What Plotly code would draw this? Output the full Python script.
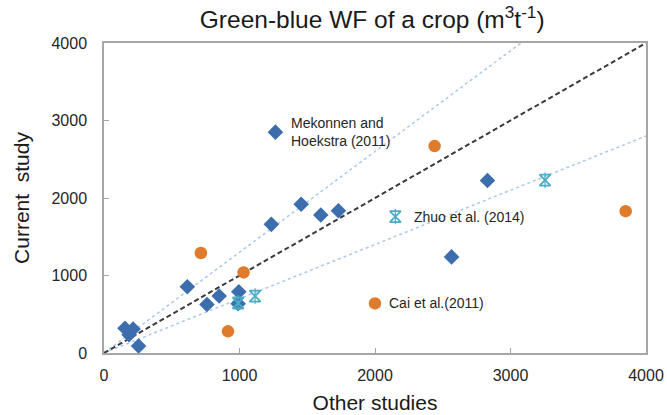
import plotly.graph_objects as go

# Green-blue water footprint: current study vs. other studies (m3/t)
diamond_x = [1265, 1235, 1455, 1600, 1730, 2830, 2565, 615, 760, 850, 995, 990, 155, 215, 185, 255]
diamond_y = [2850, 1660, 1920, 1780, 1835, 2225, 1240, 855, 625, 735, 790, 635, 320, 310, 235, 90]

circle_x = [715, 1030, 915, 2440, 2000, 3850]
circle_y = [1290, 1040, 280, 2670, 640, 1830]

star_x = [990, 1115, 2150, 3255]
star_y = [645, 735, 1760, 2230]

# reference lines: 1:1, +30 % and -30 %
one_to_one_x = [0, 4000]
one_to_one_y = [0, 4000]
upper_x = [0, 3077]
upper_y = [0, 4000]
lower_x = [0, 4000]
lower_y = [0, 2800]

x_ticks = [0, 1000, 2000, 3000, 4000]
y_ticks = [0, 1000, 2000, 3000, 4000]

FONT = "Liberation Sans, Arial, sans-serif"
BLUE = "#3C6EAD"
ORANGE = "#E17B2C"
TEAL = "#4BACC6"
DOT = "#A9C8EA"

fig = go.Figure()

fig.add_trace(go.Scatter(x=upper_x, y=upper_y, mode="lines",
                         line=dict(color=DOT, width=1.5, dash="dot"), hoverinfo="skip"))
fig.add_trace(go.Scatter(x=lower_x, y=lower_y, mode="lines",
                         line=dict(color=DOT, width=1.5, dash="dot"), hoverinfo="skip"))
fig.add_trace(go.Scatter(x=one_to_one_x, y=one_to_one_y, mode="lines",
                         line=dict(color="#3a3a3a", width=2, dash="5px,3px"), hoverinfo="skip"))

fig.add_trace(go.Scatter(x=diamond_x, y=diamond_y, mode="markers",
                         marker=dict(symbol="diamond", size=12, color=BLUE)))
fig.add_trace(go.Scatter(x=circle_x, y=circle_y, mode="markers",
                         marker=dict(symbol="circle", size=12.5, color=ORANGE)))
fig.add_trace(go.Scatter(x=star_x, y=star_y, mode="markers",
                         marker=dict(symbol="hourglass-open", size=11, color=TEAL,
                                     line=dict(color=TEAL, width=1.8))))
fig.add_trace(go.Scatter(x=star_x, y=star_y, mode="markers",
                         marker=dict(symbol="line-ns-open", size=11, color=TEAL,
                                     line=dict(color=TEAL, width=1.2))))

ann_font = dict(family=FONT, size=14, color="#262626")
fig.add_annotation(x=1365, y=2850, text="Mekonnen and<br>Hoekstra (2011)", showarrow=False,
                   xanchor="left", yanchor="middle", align="left", font=ann_font)
fig.add_annotation(x=2270, y=1760, text="Zhuo et al. (2014)", showarrow=False,
                   xanchor="left", yanchor="middle", font=ann_font)
fig.add_annotation(x=2085, y=640, text="Cai et al.(2011)", showarrow=False,
                   xanchor="left", yanchor="middle", font=ann_font)

axis_common = dict(
    showgrid=False, zeroline=False, showline=True, linecolor="#A6A6A6", linewidth=1.5,
    mirror=True, ticks="inside", ticklen=5, tickcolor="#A6A6A6", tickwidth=1,
    tickfont=dict(family=FONT, size=16, color="#262626"), automargin=False,
)

fig.update_layout(
    width=667, height=415,
    margin=dict(l=104, r=21, t=43, b=62),
    paper_bgcolor="white", plot_bgcolor="white",
    showlegend=False,
    title=dict(text="Green-blue WF of a crop (m<sup>3</sup>t<sup>-1</sup>)",
               x=0.558, xanchor="center", y=0.952, yanchor="middle",
               font=dict(family=FONT, size=24.5, color="#1a1a1a")),
    xaxis=dict(range=[0, 4000], tickvals=x_ticks, ticklabelstandoff=7,
               title=dict(text="Other studies", standoff=12,
                          font=dict(family=FONT, size=21, color="#1a1a1a")),
               **axis_common),
    yaxis=dict(range=[0, 4000], tickvals=y_ticks, ticklabelstandoff=12,
               title=dict(text="Current  study", standoff=16,
                          font=dict(family=FONT, size=21, color="#1a1a1a")),
               **axis_common),
)

fig.write_html("out.html")
